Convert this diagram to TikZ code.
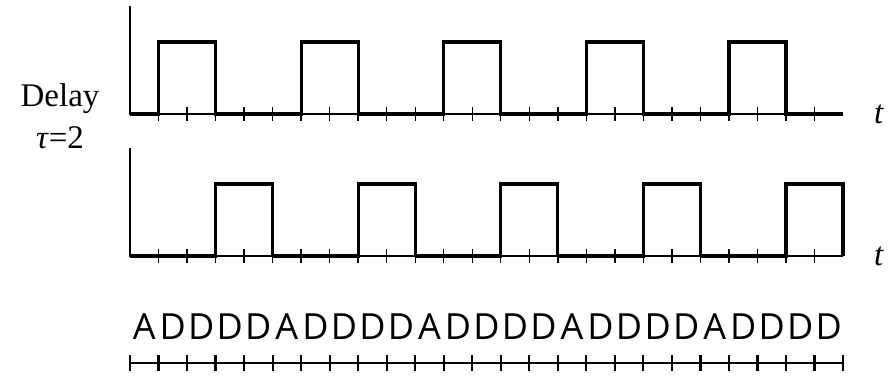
\documentclass[tikz,border=0pt]{standalone}
\usepackage{fontspec}
\setmainfont{Liberation Serif}
\newfontfamily\lettersfont{Open Sans}
\begin{document}
\begin{tikzpicture}[x=1pt,y=-1pt,
  thinline/.style={line width=1.6pt},
  sigline/.style={line width=3.2pt, line join=miter},
  tickline/.style={line width=1.4pt},
  rulerline/.style={line width=2.2pt},
  lbl/.style={font=\fontsize{33}{37}\selectfont, inner sep=0pt, anchor=base},
  letter/.style={font=\lettersfont\fontsize{36}{40}\selectfont, inner sep=0pt, anchor=base}]
\useasboundingbox (0,0) rectangle (889,375);
\def\ux{28.52}
% top plot
\draw[thinline] (130,6) -- (130,114) -- (843,114);
\foreach \i in {1,...,24} \draw[tickline] ({130+\i*\ux},107) -- ({130+\i*\ux},121);
\foreach \k in {0,...,4}
  \draw[sigline] ({130+5*\k*\ux},114) -- ({130+(5*\k+1)*\ux},114) -- ({130+(5*\k+1)*\ux},42)
     -- ({130+(5*\k+3)*\ux},42) -- ({130+(5*\k+3)*\ux},114) -- ({130+(5*\k+5)*\ux},114);
% bottom plot
\draw[thinline] (130,148) -- (130,256) -- (843,256);
\foreach \i in {1,...,24} \draw[tickline] ({130+\i*\ux},249) -- ({130+\i*\ux},263);
\foreach \k in {0,...,4}
  \draw[sigline] ({130+5*\k*\ux},256) -- ({130+(5*\k+3)*\ux},256) -- ({130+(5*\k+3)*\ux},184)
     -- ({130+(5*\k+5)*\ux},184) -- ({130+(5*\k+5)*\ux},256);
% labels
\node[lbl] (delay) at (60,106) {Delay};
\node[lbl] (tau) at (60,148) {\textit{τ}=2};
\node[lbl] (t1) at (879,123) {\textit{t}};
\node[lbl] (t2) at (879,265) {\textit{t}};
% letters
\foreach \c [count=\i from 0] in {A,D,D,D,D,A,D,D,D,D,A,D,D,D,D,A,D,D,D,D,A,D,D,D,D}
  \node[letter] (l\i) at ({130+(\i+0.5)*\ux},339) {\c};
% ruler
\draw[rulerline] (130,363) -- (843,363);
\foreach \i in {0,...,25} \draw[rulerline] ({130+\i*\ux},355) -- ({130+\i*\ux},371);
\end{tikzpicture}
\end{document}
